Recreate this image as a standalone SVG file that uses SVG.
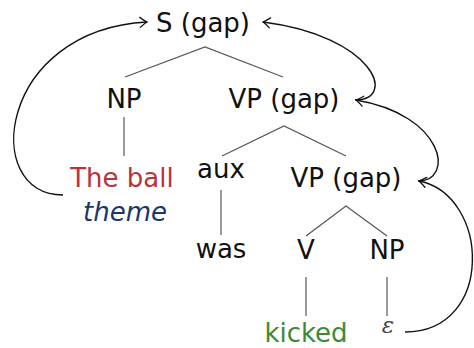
<svg xmlns="http://www.w3.org/2000/svg" width="474" height="348" viewBox="0 0 474 348">
<style>
text{font-family:"DejaVu Sans","Liberation Sans",sans-serif;font-size:26px;fill:#111;text-anchor:middle}
.red{fill:#b8333b}
.blue{fill:#1b3768;font-style:italic}
.green{fill:#3d8a36}
.eps{font-family:"DejaVu Serif","Liberation Serif",serif;font-style:italic;fill:#444;font-size:23px}
.tree{stroke:#555;stroke-width:1.2;fill:none}
.arr{stroke:#111;stroke-width:1.4;fill:none;marker-end:url(#ah)}
</style>
<defs>
<marker id="ah" markerUnits="userSpaceOnUse" markerWidth="14" markerHeight="14" viewBox="-8 -7 10 14" refX="0" refY="0" orient="auto">
<path d="M-7,-5 Q-2,-1 0,0 Q-2,1 -7,5" fill="none" stroke="#111" stroke-width="1.3" stroke-linecap="round"/>
</marker>
</defs>
<g id="connectors">
<path class="tree" d="M125,77 L205,47 L283,77"/>
<path class="tree" d="M124,117 L124,156"/>
<path class="tree" d="M222,156 L284,126 L346,156"/>
<path class="tree" d="M221,190 L221,235"/>
<path class="tree" d="M306,236 L346,206 L387,236"/>
<path class="tree" d="M306,277 L306,316"/>
<path class="tree" d="M387,277 L387,316"/>
<path class="arr" d="M63,195 C-20,195 -2,30 147,22"/>
<path class="arr" d="M355,100 C398,100 374,36 263,22"/>
<path class="arr" d="M418,181 C455,181 445,115 356,100"/>
<path class="arr" d="M405,332 C495,332 490,195 419,181"/>
</g>
<g id="n-s"><text x="203" y="32">S (gap)</text></g>
<g id="n-np1"><text x="124" y="108">NP</text></g>
<g id="n-vp1"><text x="284" y="108">VP (gap)</text></g>
<g id="n-theball"><text class="red" x="122" y="187">The ball</text><text class="blue" x="125" y="221">theme</text></g>
<g id="n-aux"><text x="221" y="178">aux</text></g>
<g id="n-vp2"><text x="346" y="187">VP (gap)</text></g>
<g id="n-was"><text x="221" y="258">was</text></g>
<g id="n-v"><text x="306" y="259">V</text></g>
<g id="n-np2"><text x="387" y="259">NP</text></g>
<g id="n-kicked"><text class="green" x="306" y="342">kicked</text></g>
<g id="n-eps"><text class="eps" x="388" y="333">ε</text></g>
</svg>
